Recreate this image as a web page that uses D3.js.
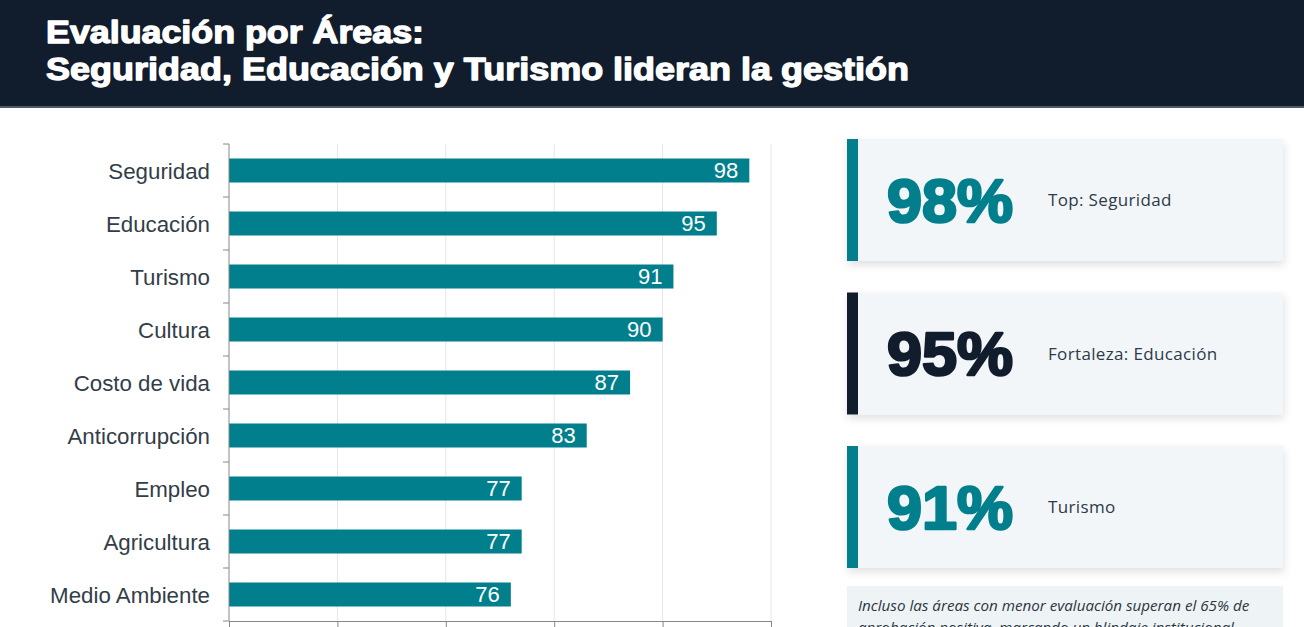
<!DOCTYPE html>
<html>
<head>
<meta charset="utf-8">
<script src="https://cdn.jsdelivr.net/npm/d3@7/dist/d3.min.js"></script>
<style>
  html, body { margin: 0; padding: 0; background: #fff; }
  svg { display: block; }
</style>
</head>
<body>
<svg id="chart" width="1304" height="627"></svg>
<script>
'use strict';

// Data
const titleLines = [
    'Evaluación por Áreas:',
    'Seguridad, Educación y Turismo lideran la gestión'
];
const titleWidths = [378, 863];
const categories = [
    'Seguridad',
    'Educación',
    'Turismo',
    'Cultura',
    'Costo de vida',
    'Anticorrupción',
    'Empleo',
    'Agricultura',
    'Medio Ambiente'
];
const values = [98, 95, 91, 90, 87, 83, 77, 77, 76];
const xTicks = [50, 60, 70, 80, 90, 100];

const kpiValues = [98, 95, 91];
const kpiLabels = ['Top: Seguridad', 'Fortaleza: Educación', 'Turismo'];
const noteLines = [
    'Incluso las áreas con menor evaluación superan el 65% de',
    'aprobación positiva, marcando un blindaje institucional.'
];

const teal = '#027f8c';
const navy = '#111c2c';
const kpiAccents = [teal, navy, teal];

const svg = d3.select('#chart');

// Shadow for the cards
const defs = svg.append('defs');
const shadow = defs.append('filter')
    .attr('id', 'cardShadow')
    .attr('x', '-10%').attr('y', '-20%')
    .attr('width', '120%').attr('height', '150%');
shadow.append('feDropShadow')
    .attr('dx', 1).attr('dy', 4)
    .attr('stdDeviation', 4)
    .attr('flood-color', '#000')
    .attr('flood-opacity', 0.12);

/* ---- header ---- */
svg.append('rect')
    .attr('x', 0).attr('y', 0)
    .attr('width', 1304).attr('height', 107)
    .attr('fill', navy);
svg.append('rect')
    .attr('x', 0).attr('y', 106)
    .attr('width', 1304).attr('height', 2)
    .attr('fill', '#4d5b66');

// heavy title: bold face thickened with a stroke, stretched to the reference width
svg.selectAll('text.title')
    .data(titleLines)
    .enter()
    .append('text')
    .attr('class', 'title')
    .attr('x', 46)
    .attr('y', (d, i) => 43 + i * 37)
    .attr('fill', '#fff')
    .attr('stroke', '#fff')
    .attr('stroke-width', 1.3)
    .attr('stroke-linejoin', 'round')
    .attr('font-family', '"Liberation Sans", Arial, sans-serif')
    .attr('font-weight', 700)
    .attr('font-size', 31)
    .attr('textLength', (d, i) => titleWidths[i])
    .attr('lengthAdjust', 'spacingAndGlyphs')
    .text((d) => d);

/* ---- bar chart ---- */
const x = d3.scaleLinear()
    .domain([xTicks[0], xTicks[xTicks.length - 1]])
    .range([229, 771]);

const y = d3.scaleBand()
    .domain(categories)
    .range([144, 621]);

const barHeight = 24;
const chart = svg.append('g');

// vertical grid lines
chart.selectAll('line.grid')
    .data(xTicks.slice(1))
    .enter()
    .append('line')
    .attr('class', 'grid')
    .attr('x1', (d) => x(d)).attr('x2', (d) => x(d))
    .attr('y1', y.range()[0]).attr('y2', y.range()[1])
    .attr('stroke', '#e6e6e6')
    .attr('stroke-width', 1);

// bars
chart.selectAll('rect.bar')
    .data(categories)
    .enter()
    .append('rect')
    .attr('class', 'bar')
    .attr('x', x(xTicks[0]))
    .attr('y', (d) => y(d) + (y.bandwidth() - barHeight) / 2)
    .attr('width', (d, i) => x(values[i]) - x(xTicks[0]))
    .attr('height', barHeight)
    .attr('fill', teal);

// value labels inside the bar ends
chart.selectAll('text.value')
    .data(categories)
    .enter()
    .append('text')
    .attr('class', 'value')
    .attr('x', (d, i) => x(values[i]) - 11)
    .attr('y', (d) => y(d) + y.bandwidth() / 2)
    .attr('dy', '0.36em')
    .attr('text-anchor', 'end')
    .attr('fill', '#fff')
    .attr('font-family', '"Liberation Sans", Arial, sans-serif')
    .attr('font-size', 22)
    .text((d, i) => values[i]);

// y axis: labels centred on the band, ticks on band boundaries
const yAxis = chart.append('g')
    .attr('transform', `translate(${x(xTicks[0])},0)`);
yAxis.append('line')
    .attr('y1', y.range()[0]).attr('y2', y.range()[1])
    .attr('stroke', '#888');
yAxis.selectAll('line.tick')
    .data(categories.map((d) => y(d)).concat([y.range()[1]]))
    .enter()
    .append('line')
    .attr('class', 'tick')
    .attr('x1', -6).attr('x2', 0)
    .attr('y1', (d) => d).attr('y2', (d) => d)
    .attr('stroke', '#888');
yAxis.selectAll('text')
    .data(categories)
    .enter()
    .append('text')
    .attr('x', -19)
    .attr('y', (d) => y(d) + y.bandwidth() / 2)
    .attr('dy', '0.36em')
    .attr('text-anchor', 'end')
    .attr('fill', '#333d48')
    .attr('font-family', '"Liberation Sans", Arial, sans-serif')
    .attr('font-size', 22.3)
    .text((d) => d);

// x axis at the bottom (its labels fall below the visible area, so ticks only)
const xAxis = chart.append('g')
    .attr('transform', `translate(0,${y.range()[1]})`)
    .call(d3.axisBottom(x).tickValues(xTicks).tickSize(6).tickSizeOuter(0).tickFormat(''));
xAxis.select('.domain').attr('stroke', '#888');
xAxis.selectAll('.tick line').attr('stroke', '#888');

/* ---- KPI cards ---- */
const cardY = d3.scalePoint()
    .domain(d3.range(kpiValues.length))
    .range([139, 446]);
const cardH = 122;

const cards = svg.selectAll('g.card')
    .data(kpiValues)
    .enter()
    .append('g')
    .attr('class', 'card')
    .attr('transform', (d, i) => `translate(847,${cardY(i)})`);

cards.append('rect')
    .attr('width', 436).attr('height', cardH)
    .attr('fill', '#f3f6f8')
    .attr('filter', 'url(#cardShadow)');
cards.append('rect')
    .attr('width', 11).attr('height', cardH)
    .attr('fill', (d, i) => kpiAccents[i]);
cards.append('text')
    .attr('x', 40)
    .attr('y', cardH / 2)
    .attr('dy', '0.36em')
    .attr('fill', (d, i) => kpiAccents[i])
    .attr('stroke', (d, i) => kpiAccents[i])
    .attr('stroke-width', 2.6)
    .attr('stroke-linejoin', 'round')
    .attr('font-family', '"Liberation Sans", Arial, sans-serif')
    .attr('font-weight', 700)
    .attr('font-size', 61)
    .attr('textLength', 126)
    .attr('lengthAdjust', 'spacingAndGlyphs')
    .text((d) => `${d}%`);
cards.append('text')
    .attr('x', 201)
    .attr('y', cardH / 2)
    .attr('dy', '0.36em')
    .attr('fill', '#2c3a4a')
    .attr('font-family', '"Open Sans", sans-serif')
    .attr('font-size', 17)
    .attr('letter-spacing', 0.35)
    .text((d, i) => kpiLabels[i]);

/* ---- note box ---- */
const note = svg.append('g').attr('transform', 'translate(847,586)');
note.append('rect')
    .attr('width', 436).attr('height', 70)
    .attr('fill', '#eef4f6');
note.selectAll('text')
    .data(noteLines)
    .enter()
    .append('text')
    .attr('x', 11)
    .attr('y', (d, i) => 25 + i * 22)
    .attr('fill', '#2c3440')
    .attr('font-family', '"Open Sans", sans-serif')
    .attr('font-style', 'italic')
    .attr('font-size', 15.2)
    .text((d) => d);
</script>
</body>
</html>
